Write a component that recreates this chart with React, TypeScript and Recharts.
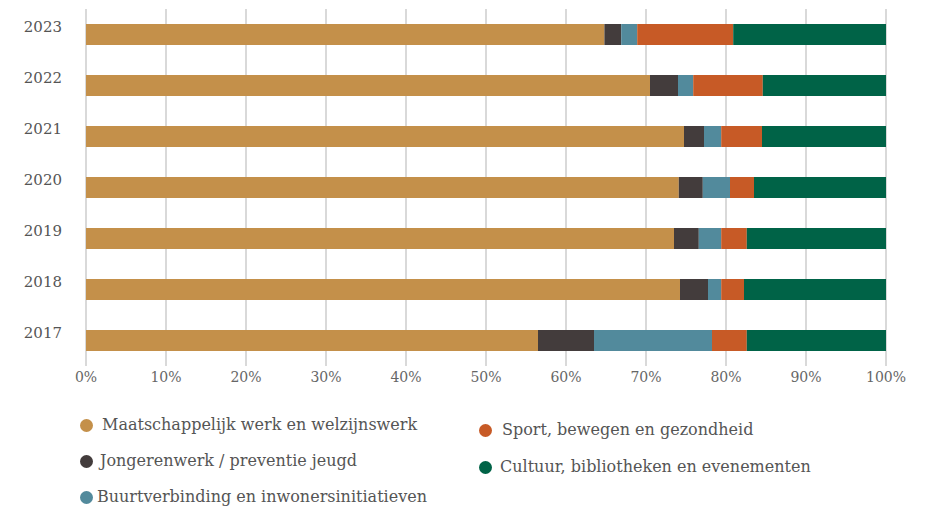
import { BarChart, Bar, XAxis, YAxis, CartesianGrid } from 'recharts';

const years = ['2023', '2022', '2021', '2020', '2019', '2018', '2017'];

const maatschappelijk = [64.8, 70.5, 74.75, 74.1, 73.5, 74.25, 56.5];
const jongerenwerk = [2.1, 3.5, 2.5, 3.0, 3.1, 3.5, 7.0];
const buurtverbinding = [2.0, 1.9, 2.15, 3.4, 2.8, 1.65, 14.75];
const sport = [12.0, 8.7, 5.1, 3.0, 3.2, 2.85, 4.35];
const cultuur = [19.1, 15.4, 15.5, 16.5, 17.4, 17.75, 17.4];

const xTicks = [0, 0.1, 0.2, 0.3, 0.4, 0.5, 0.6, 0.7, 0.8, 0.9, 1];

const series = [
    { key: 'maatschappelijk', name: 'Maatschappelijk werk en welzijnswerk', color: '#C4904A', values: maatschappelijk },
    { key: 'jongerenwerk', name: 'Jongerenwerk / preventie jeugd', color: '#433C3C', values: jongerenwerk },
    { key: 'buurtverbinding', name: 'Buurtverbinding en inwonersinitiatieven', color: '#528A9C', values: buurtverbinding },
    { key: 'sport', name: 'Sport, bewegen en gezondheid', color: '#C75A26', values: sport },
    { key: 'cultuur', name: 'Cultuur, bibliotheken en evenementen', color: '#006347', values: cultuur },
];

const data = years.map((year, i) => {
    const row: Record<string, string | number> = { year };
    series.forEach((s) => {
        row[s.key] = s.values[i];
    });
    return row;
});

// legend placement (two columns, like the original layout)
const legendPos: Record<string, { left: number; top: number; gap: number }> = {
    maatschappelijk: { left: 72, top: 406, gap: 9 },
    jongerenwerk: { left: 72, top: 442, gap: 7 },
    buurtverbinding: { left: 72, top: 478, gap: 4 },
    sport: { left: 471, top: 411, gap: 10 },
    cultuur: { left: 471, top: 448, gap: 8 },
};

const FONT = '"DejaVu Serif", serif';

const App = () => {
    return (
        <div style={{ position: 'relative', width: 912, height: 501, fontFamily: FONT }}>
            <BarChart
                width={912}
                height={400}
                data={data}
                layout="vertical"
                stackOffset="expand"
                margin={{ top: 1, right: 34, bottom: 12, left: 0 }}
            >
                <CartesianGrid horizontal={false} stroke="#d9d9d9" strokeWidth={2} />
                <XAxis
                    type="number"
                    domain={[0, 1]}
                    ticks={xTicks}
                    tickFormatter={(v: number) => `${Math.round(v * 100)}%`}
                    axisLine={false}
                    tickLine={false}
                    tickSize={0}
                    tickMargin={6}
                    height={30}
                    interval={0}
                    tick={{ fill: '#666', fontSize: 14, fontFamily: FONT }}
                />
                <YAxis
                    type="category"
                    dataKey="year"
                    width={78}
                    axisLine={false}
                    tickLine={false}
                    tickSize={0}
                    tickMargin={24}
                    tick={{ fill: '#555', fontSize: 15, fontFamily: FONT, dy: -8 }}
                />
                {series.map((s) => (
                    <Bar
                        key={s.key}
                        dataKey={s.key}
                        name={s.name}
                        stackId="a"
                        fill={s.color}
                        barSize={21}
                        isAnimationActive={false}
                    />
                ))}
            </BarChart>
            {series.map((s) => (
                <div
                    key={s.key}
                    style={{
                        position: 'absolute',
                        left: legendPos[s.key].left,
                        top: legendPos[s.key].top,
                        display: 'flex',
                        alignItems: 'center',
                        color: '#555',
                        fontSize: 16,
                        lineHeight: '22px',
                        whiteSpace: 'nowrap',
                    }}
                >
                    <span
                        style={{
                            display: 'inline-block',
                            width: 13,
                            height: 13,
                            borderRadius: '50%',
                            background: s.color,
                            marginRight: legendPos[s.key].gap,
                        }}
                    />
                    {s.name}
                </div>
            ))}
        </div>
    );
};

export default App;
